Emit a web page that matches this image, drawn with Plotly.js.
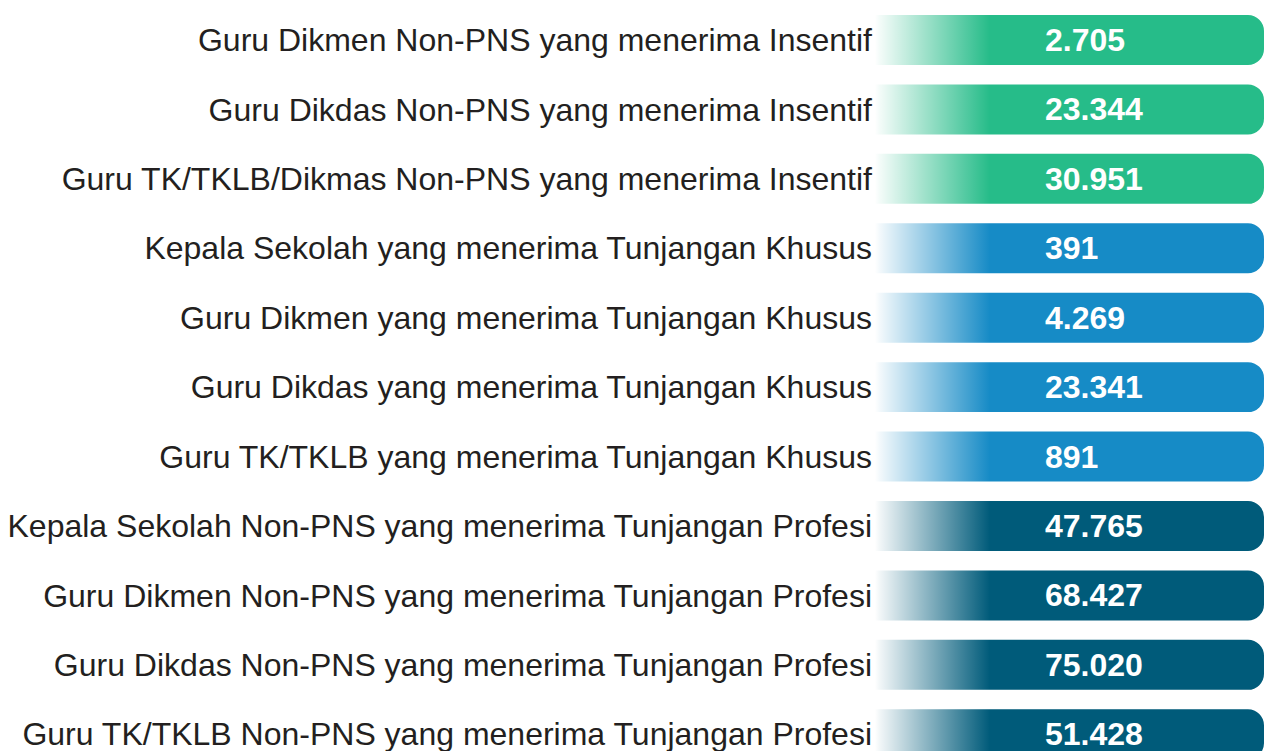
<!DOCTYPE html>
<html>
<head>
<meta charset="utf-8">
<script src="https://cdn.plot.ly/plotly-3.0.1.min.js"></script>
<style>
html,body{margin:0;padding:0;background:#ffffff;}
#chart{width:1264px;height:751px;}
</style>
</head>
<body>
<div id="chart"></div>
<script>
// ---- data ----
const categories = [
  "Guru Dikmen Non-PNS yang menerima Insentif",
  "Guru Dikdas Non-PNS yang menerima Insentif",
  "Guru TK/TKLB/Dikmas Non-PNS yang menerima Insentif",
  "Kepala Sekolah yang menerima Tunjangan Khusus",
  "Guru Dikmen yang menerima Tunjangan Khusus",
  "Guru Dikdas yang menerima Tunjangan Khusus",
  "Guru TK/TKLB yang menerima Tunjangan Khusus",
  "Kepala Sekolah Non-PNS yang menerima Tunjangan Profesi",
  "Guru Dikmen Non-PNS yang menerima Tunjangan Profesi",
  "Guru Dikdas Non-PNS yang menerima Tunjangan Profesi",
  "Guru TK/TKLB Non-PNS yang menerima Tunjangan Profesi"
];
const values = [2705, 23344, 30951, 391, 4269, 23341, 891, 47765, 68427, 75020, 51428];
const groups = ["Insentif","Insentif","Insentif",
  "Tunjangan Khusus","Tunjangan Khusus","Tunjangan Khusus","Tunjangan Khusus",
  "Tunjangan Profesi","Tunjangan Profesi","Tunjangan Profesi","Tunjangan Profesi"];

// ---- styles ----
const groupColors = {
  "Insentif": "#26BC89",
  "Tunjangan Khusus": "#168BC6",
  "Tunjangan Profesi": "#005B7A"
};
const BAR_START = -0.05;  // bars start just left of the visible area (square left edge)
const BAR_END = 1;        // every bar has the same length (infographic style)
const BAR_W = 0.72;
const FADE_END = 0.295;   // fraction of bar covered by the white fade
const TEXT_X = 0.431;
const FONT = "'Liberation Sans', Arial, Helvetica, sans-serif";

const rows = categories.map((_, i) => i);

function fmt(v) {
  return String(v).replace(/\B(?=(\d{3})+(?!\d))/g, ".");
}

// solid rounded bars
const barTrace = {
  type: "bar",
  orientation: "h",
  y: rows,
  x: rows.map(() => BAR_END - BAR_START),
  base: BAR_START,
  width: BAR_W,
  marker: {
    color: groups.map(g => groupColors[g]),
    cornerradius: 16,
    line: {width: 0}
  },
  cliponaxis: true,
  hoverinfo: "skip",
  showlegend: false
};

// white fade overlay on the left part of each bar
const fx = [], fy = [];
const pad = 0.012;
rows.forEach(i => {
  const y0 = i - BAR_W / 2 - pad, y1 = i + BAR_W / 2 + pad;
  fx.push(-0.06, FADE_END, FADE_END, -0.06, -0.06, null);
  fy.push(y0, y0, y1, y1, y0, null);
});
const fadeTrace = {
  type: "scatter",
  mode: "lines",
  x: fx,
  y: fy,
  fill: "toself",
  line: {width: 0, color: "rgba(255,255,255,0)"},
  fillgradient: {
    type: "horizontal",
    start: 0,
    stop: FADE_END,
    colorscale: [
      [0, "rgba(255,255,255,1)"],
      [0.04, "rgba(255,255,255,0.95)"],
      [1, "rgba(255,255,255,0)"]
    ]
  },
  hoverinfo: "skip",
  showlegend: false
};

// value labels
const annotations = rows.map(i => ({
  x: TEXT_X,
  y: i,
  xref: "x",
  yref: "y",
  text: "<b>" + fmt(values[i]) + "</b>",
  showarrow: false,
  xanchor: "left",
  yanchor: "middle",
  yshift: 0,
  font: {family: FONT, size: 32, color: "#ffffff"}
}));

const layout = {
  width: 1264,
  height: 751,
  margin: {l: 875, r: 0, t: 0, b: 0, pad: 0},
  paper_bgcolor: "#ffffff",
  plot_bgcolor: "#ffffff",
  showlegend: false,
  hovermode: false,
  annotations: annotations,
  xaxis: {range: [0, 1], visible: false, fixedrange: true},
  yaxis: {
    range: [10.241, -0.576],
    tickmode: "array",
    tickvals: rows,
    ticktext: categories,
    ticks: "",
    ticklabelstandoff: 2,
    ticklabeloverflow: "allow",
    showgrid: false,
    zeroline: false,
    showline: false,
    automargin: false,
    fixedrange: true,
    tickfont: {family: FONT, size: 32, color: "#231F20"}
  }
};

Plotly.newPlot("chart", [barTrace, fadeTrace], layout, {displayModeBar: false, staticPlot: true});
</script>
</body>
</html>
